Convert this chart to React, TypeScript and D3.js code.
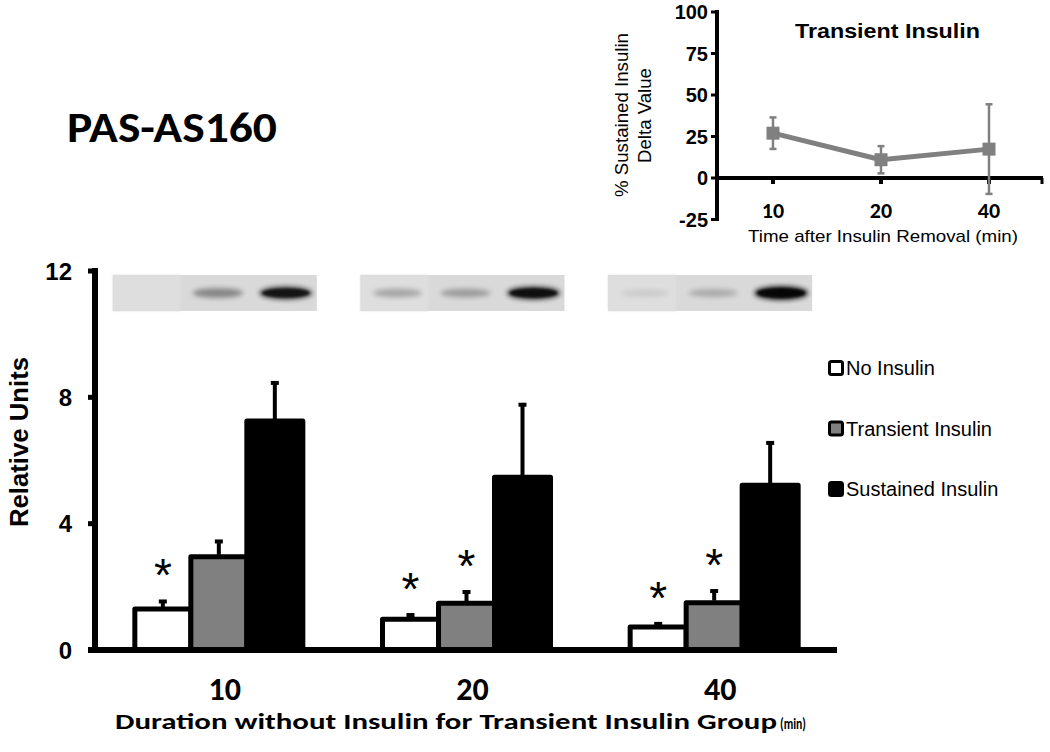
import React from 'react';
import * as d3 from 'd3';

// ---- main bar chart data ----
const groups = ['10', '20', '40'];
const series = ['No Insulin', 'Transient Insulin', 'Sustained Insulin'];
const noInsulin = [1.3, 0.97, 0.73];
const noInsulinErr = [0.3, 0.2, 0.16];
const transient = [2.95, 1.48, 1.5];
const transientErr = [0.55, 0.42, 0.43];
const sustained = [7.25, 5.47, 5.22];
const sustainedErr = [1.27, 2.36, 1.4];
const noInsulinSig = [true, true, true];
const transientSig = [false, true, true];
const sustainedSig = [false, false, false];
const yTicks = [0, 4, 8, 12];
const seriesFill = ['#ffffff', '#808080', '#000000'];

// ---- blot band intensities (per group, per lane) ----
const blotLane1 = [0.02, 0.3, 0.1];
const blotLane2 = [0.45, 0.33, 0.25];
const blotLane3 = [0.85, 0.9, 1.0];

// ---- inset data ----
const insetTimes = ['10', '20', '40'];
const insetDelta = [27, 11, 17.4];
const insetErr = [9.5, 8.2, 27];
const insetTicks = [-25, 0, 25, 50, 75, 100];

const values = [noInsulin, transient, sustained];
const errs = [noInsulinErr, transientErr, sustainedErr];
const sigs = [noInsulinSig, transientSig, sustainedSig];
const lanes = [blotLane1, blotLane2, blotLane3];

const ARIAL = "Arial, 'Liberation Sans', Helvetica, sans-serif";
const CAL = "Calibri, Carlito, Lato, 'Open Sans', sans-serif";

export default function App() {
  const x0 = d3.scaleBand<string>().domain(groups).range([95, 838]).padding(0);
  const x1 = d3.scaleBand<string>().domain(series).range([-84, 84]).padding(0);
  const y = d3.scaleLinear().domain([0, 12]).range([650, 271]);

  const ix = d3.scaleBand<string>().domain(insetTimes).range([719, 1043]);
  const iy = d3.scaleLinear().domain([-25, 100]).range([219.5, 12]);
  const pts = insetTimes.map((t, i) => [ix(t)! + ix.bandwidth() / 2, iy(insetDelta[i])] as [number, number]);
  const line = d3.line<[number, number]>().x(d => d[0]).y(d => d[1]);

  return (
    <svg width={1050} height={752} style={{ position: 'absolute', left: 0, top: 0, background: '#fff' }}>
      <defs>
        <filter id="blur" x="-50%" y="-100%" width="200%" height="300%">
          <feGaussianBlur stdDeviation="2.6" />
        </filter>
        <filter id="blur2" x="-20%" y="-20%" width="140%" height="140%">
          <feGaussianBlur stdDeviation="1.2" />
        </filter>
      </defs>
      <rect width={1050} height={752} fill="#fff" />

      {/* Title */}
      <text x={67} y={142} fontFamily={CAL} fontWeight="bold" fontSize={43} textLength={210} lengthAdjust="spacingAndGlyphs">PAS-AS160</text>

      {/* Blots */}
      {groups.map((g, gi) => {
        const cx = x0(g)! + x0.bandwidth() / 2 - 4;
        const left = cx - 102;
        const laneW = 68;
        return (
          <g key={'blot' + g}>
            <rect x={left} y={275} width={204} height={36} fill="#d9d9d9" />
            <rect x={left} y={275} width={laneW} height={36} fill="#dedede" filter="url(#blur2)" />
            {lanes.map((ln, li) => {
              const v = ln[gi];
              if (v < 0.05) return null;
              const bx = left + laneW * li + laneW / 2 + 3;
              return (
                <g key={li}>
                  <ellipse cx={bx} cy={293} rx={24 + v * 3} ry={3 + v * 4} fill="#000" opacity={Math.min(1, v * 0.85)} filter="url(#blur)" />
                  {v > 0.8 && <ellipse cx={bx} cy={293} rx={22 + v * 2} ry={2 + v * 3} fill="#000" opacity={v * 0.8} filter="url(#blur2)" />}
                </g>
              );
            })}
          </g>
        );
      })}

      {/* Bars */}
      {groups.map((g, gi) => (
        <g key={'grp' + g} transform={`translate(${x0(g)! + x0.bandwidth() / 2},0)`}>
          {series.map((s, si) => {
            const v = values[si][gi];
            const bx = x1(s)!;
            return (
              <rect key={s} x={bx} y={y(v)} width={x1.bandwidth()} height={y(0) - y(v)}
                fill={seriesFill[si]} stroke="#000" strokeWidth={5} strokeLinejoin="round" />
            );
          })}
          {series.map((s, si) => {
            const v = values[si][gi];
            const e = errs[si][gi];
            const cx = x1(s)! + x1.bandwidth() / 2;
            const top = y(v + e);
            return (
              <g key={'e' + s}>
                <line x1={cx} x2={cx} y1={y(v) - 2} y2={top + 2} stroke="#000" strokeWidth={4} />
                <rect x={cx - 4} y={top} width={8} height={4} fill="#000" />
                {sigs[si][gi] && (
                  <text x={cx} y={top - 34 + 26} textAnchor="middle" fontFamily={ARIAL} fontSize={46}>*</text>
                )}
              </g>
            );
          })}
        </g>
      ))}

      {/* Y axis */}
      <line x1={95} x2={95} y1={268} y2={653} stroke="#000" strokeWidth={6} />
      {yTicks.map(t => (
        <g key={'yt' + t}>
          <line x1={88} x2={95} y1={y(t)} y2={y(t)} stroke="#000" strokeWidth={5} />
          <text x={72} y={y(t) + 8.5} textAnchor="end" fontFamily={ARIAL} fontWeight="bold" fontSize={24}>{t}</text>
        </g>
      ))}
      {/* X axis */}
      <line x1={88} x2={837} y1={650} y2={650} stroke="#000" strokeWidth={6} />
      {groups.map(g => (
        <text key={'xl' + g} x={x0(g)! + x0.bandwidth() / 2 + 6} y={700} textAnchor="middle" fontFamily={CAL} fontWeight="bold" fontSize={32}>{g}</text>
      ))}
      <text x={115} y={729} fontFamily={CAL} fontWeight="bold" fontSize={22} textLength={662} lengthAdjust="spacingAndGlyphs">Duration without Insulin for Transient Insulin Group</text>
      <text x={780} y={729} fontFamily={CAL} fontWeight="bold" fontSize={15} textLength={26} lengthAdjust="spacingAndGlyphs">(min)</text>
      <text transform="translate(28,442) rotate(-90)" textAnchor="middle" fontFamily={ARIAL} fontWeight="bold" fontSize={25} textLength={170} lengthAdjust="spacingAndGlyphs">Relative Units</text>

      {/* Legend */}
      {series.map((s, si) => {
        const cy = 368 + si * 60.5;
        return (
          <g key={'lg' + s}>
            <rect x={829.5} y={cy - 6.5} width={13} height={13} rx={2} fill={seriesFill[si]} stroke="#000" strokeWidth={3} />
            <text x={846} y={cy + 7} fontFamily={ARIAL} fontSize={20}>{s}</text>
          </g>
        );
      })}

      {/* Inset */}
      <line x1={717} x2={717} y1={10} y2={221} stroke="#000" strokeWidth={4} />
      {insetTicks.map(t => (
        <g key={'it' + t}>
          <line x1={711} x2={717} y1={iy(t)} y2={iy(t)} stroke="#000" strokeWidth={3} />
          <text x={708} y={iy(t) + 7} textAnchor="end" fontFamily={ARIAL} fontWeight="bold" fontSize={20}>{t}</text>
        </g>
      ))}
      <line x1={717} x2={1043} y1={iy(0)} y2={iy(0)} stroke="#000" strokeWidth={4} />
      {insetTimes.map(t => (
        <line key={'ixt' + t} x1={ix(t)! + ix.bandwidth() / 2} x2={ix(t)! + ix.bandwidth() / 2} y1={iy(0)} y2={iy(0) + 6} stroke="#000" strokeWidth={4} />
      ))}
      <line x1={1042} x2={1042} y1={iy(0)} y2={iy(0) + 6} stroke="#000" strokeWidth={3} />
      {insetTimes.map((t, i) => {
        const cx = ix(t)! + ix.bandwidth() / 2;
        return (
          <g key={'ie' + t}>
            <line x1={cx} x2={cx} y1={iy(insetDelta[i] + insetErr[i])} y2={iy(insetDelta[i] - insetErr[i])} stroke="#808080" strokeWidth={2.5} />
            <line x1={cx - 3.5} x2={cx + 3.5} y1={iy(insetDelta[i] + insetErr[i])} y2={iy(insetDelta[i] + insetErr[i])} stroke="#808080" strokeWidth={2.5} />
            <line x1={cx - 3.5} x2={cx + 3.5} y1={iy(insetDelta[i] - insetErr[i])} y2={iy(insetDelta[i] - insetErr[i])} stroke="#808080" strokeWidth={2.5} />
          </g>
        );
      })}
      <path d={line(pts)!} fill="none" stroke="#808080" strokeWidth={5} strokeLinejoin="round" />
      {pts.map((p, i) => (
        <rect key={'m' + i} x={p[0] - 6.5} y={p[1] - 6.5} width={13} height={13} fill="#808080" />
      ))}
      {insetTimes.map(t => (
        <text key={'ixl' + t} x={ix(t)! + ix.bandwidth() / 2} y={218} textAnchor="middle" fontFamily={CAL} fontWeight="bold" fontSize={22}>{t}</text>
      ))}
      <text x={748} y={242} fontFamily={ARIAL} fontSize={17} textLength={270} lengthAdjust="spacingAndGlyphs">Time after Insulin Removal (min)</text>
      <text x={795} y={38} fontFamily={ARIAL} fontWeight="bold" fontSize={21} textLength={185} lengthAdjust="spacingAndGlyphs">Transient Insulin</text>
      <text transform="translate(628,115) rotate(-90)" textAnchor="middle" fontFamily={ARIAL} fontSize={17.5} textLength={164} lengthAdjust="spacingAndGlyphs">% Sustained Insulin</text>
      <text transform="translate(651,115.5) rotate(-90)" textAnchor="middle" fontFamily={ARIAL} fontSize={17.5} textLength={95} lengthAdjust="spacingAndGlyphs">Delta Value</text>
    </svg>
  );
}
